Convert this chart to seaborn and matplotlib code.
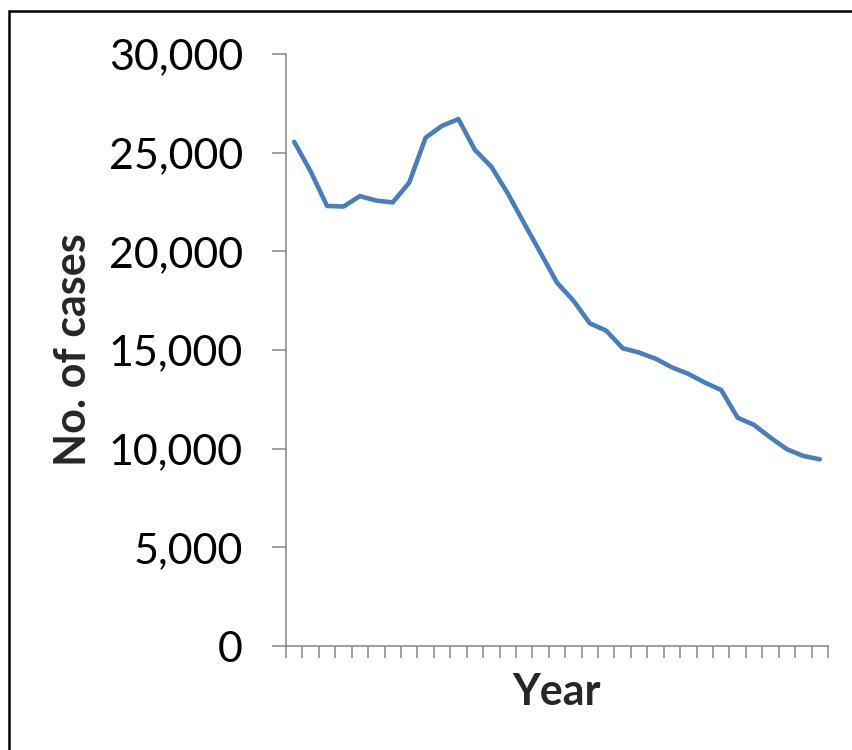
import matplotlib
matplotlib.use("Agg")
import matplotlib.pyplot as plt
import matplotlib.ticker as mticker
from matplotlib.patches import Rectangle
import seaborn as sns
import pandas as pd
import numpy as np

# ---- data ----
year_index = list(range(33))
cases = [25550, 24050, 22300, 22270, 22800, 22570, 22480, 23480, 25760, 26360,
         26700, 25140, 24290, 22940, 21420, 19920, 18410, 17500, 16350, 15980,
         15090, 14870, 14560, 14120, 13790, 13350, 12970, 11570, 11200, 10560,
         9970, 9630, 9460]
y_ticks = [0, 5000, 10000, 15000, 20000, 25000, 30000]

df = pd.DataFrame({"Year": year_index, "No. of cases": cases})

sns.set_style("white")
plt.rcParams['font.family'] = ['Lato', 'DejaVu Sans']

W, H = 852, 750
fig = plt.figure(figsize=(W / 100, H / 100), dpi=100)
ax = fig.add_axes([286 / W, 1 - 646 / H, (828 - 286) / W, (646 - 54) / H])

sns.lineplot(data=df, x="Year", y="No. of cases", ax=ax,
             color="#4A7EBB", linewidth=3.3, solid_joinstyle="round",
             solid_capstyle="round")

ax.set_xlim(-0.5, len(cases) - 0.5)
ax.set_ylim(0, 30000)
ax.set_yticks(y_ticks)
ax.yaxis.set_major_formatter(mticker.FuncFormatter(lambda v, p: f"{int(v):,}"))
ax.set_xticks(np.arange(-0.5, len(cases) + 0.5, 1.0))
ax.set_xticklabels([])

gray = "#868686"
for s in ["top", "right"]:
    ax.spines[s].set_visible(False)
for s in ["left", "bottom"]:
    ax.spines[s].set_color(gray)
    ax.spines[s].set_linewidth(1.1)

ax.tick_params(axis="y", left=True, direction="out", length=10, width=1.1,
               color=gray, labelsize=31, pad=21, labelcolor="black")
ax.tick_params(axis="x", bottom=True, direction="out", length=8.5, width=1.1,
               color=gray)

ax.set_ylabel("No. of cases", fontsize=31, fontweight="bold", va="center")
ax.yaxis.set_label_coords((73 - 286) / 542, 0.5)
ax.set_xlabel("Year", fontsize=31, fontweight="bold", va="center")
ax.xaxis.set_label_coords(0.5, (646 - 692) / 592)

# outer frame (left and top visible)
fig.patches.append(Rectangle((9 / W, -0.05), 1.2, (750 - 11) / H + 0.05,
                             transform=fig.transFigure, fill=False,
                             edgecolor="black", linewidth=1.8))

fig.savefig("out.png", dpi=100)
